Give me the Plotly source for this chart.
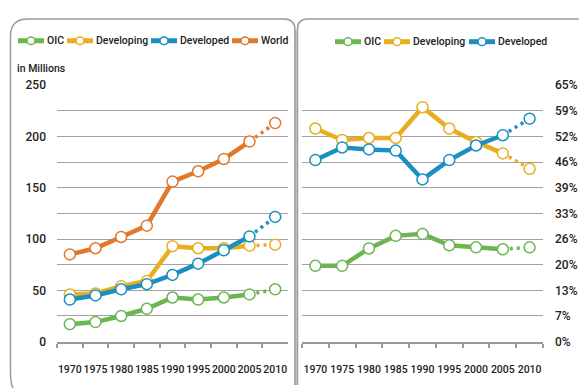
import plotly.graph_objects as go

# ---- data ----
years = ["1970", "1975", "1980", "1985", "1990", "1995", "2000", "2005", "2010"]

# population, in millions
oic_mn = [17, 19, 25, 32, 43, 41, 43, 46, 51]
developing_mn = [46, 47, 54, 59, 93, 91, 91, 93.5, 94.5]
developed_mn = [41, 45, 51, 56, 65, 76, 89, 102.5, 121.5]
world_mn = [85, 91, 102, 113, 156, 166, 178, 195, 213]

# share of world total, percent
oic_pct = [19.2, 19.2, 23.6, 26.8, 27.3, 24.4, 23.9, 23.4, 23.9]
developing_pct = [54.0, 51.1, 51.6, 51.6, 59.4, 54.0, 50.6, 47.7, 43.8]
developed_pct = [46.0, 49.2, 48.7, 48.4, 41.1, 46.0, 49.7, 52.3, 56.5]

left_ticks = [0, 25, 50, 75, 100, 125, 150, 175, 200, 225, 250]
left_ticktext = ["0", "", "50", "", "100", "", "150", "", "200", "", "250"]
right_ticks = [0, 6.5, 13, 19.5, 26, 32.5, 39, 45.5, 52, 58.5, 65]
right_ticktext = ["0%", "7%", "13%", "20%", "26%", "33%", "39%", "46%", "52%", "59%", "65%"]

left_legend = ["OIC", "Developing", "Developed", "World"]
right_legend = ["OIC", "Developing", "Developed"]

GREEN = "#6cb651"
YELLOW = "#e8ae1f"
BLUE = "#1b8fbf"
ORANGE = "#e1782c"

W, H = 579, 392
FONT = "Roboto"
TXT = "#222222"
GRID = "#a3a3a3"


def px(x):
    return x / W


def py(y):
    return 1 - y / H


fig = go.Figure()

marker_style = lambda c: dict(size=11, color="white", line=dict(color=c, width=1.5))


def add_series(name, vals, color, xa, ya):
    # projected segment (2005 -> 2010), dotted
    fig.add_trace(go.Scatter(
        x=years[-2:], y=vals[-2:], xaxis=xa, yaxis=ya, name=name,
        mode="lines", line=dict(color=color, width=3.5, dash="3px,4px"),
        showlegend=False, hoverinfo="skip",
    ))
    # projected 2010 value
    fig.add_trace(go.Scatter(
        x=years[-1:], y=vals[-1:], xaxis=xa, yaxis=ya, name=name,
        mode="markers", marker=marker_style(color), showlegend=False,
    ))
    # observed values, solid
    fig.add_trace(go.Scatter(
        x=years[:-1], y=vals[:-1], xaxis=xa, yaxis=ya, name=name,
        mode="lines+markers", line=dict(color=color, width=4.5),
        marker=marker_style(color), showlegend=False,
    ))


for name, vals, c in zip(left_legend, [oic_mn, developing_mn, developed_mn, world_mn],
                         [GREEN, YELLOW, BLUE, ORANGE]):
    add_series(name, vals, c, "x", "y")
for name, vals, c in zip(right_legend, [oic_pct, developing_pct, developed_pct],
                         [GREEN, YELLOW, BLUE]):
    add_series(name, vals, c, "x2", "y2")

# legend keys: short bar with a hollow dot, label to the right
KEY_LEN = 26
key_slots = [
    (left_legend[0], GREEN, 18, 35), (left_legend[1], YELLOW, 67, 35),
    (left_legend[2], BLUE, 151, 35), (left_legend[3], ORANGE, 232, 35),
    (right_legend[0], GREEN, 335, 36), (right_legend[1], YELLOW, 384, 36),
    (right_legend[2], BLUE, 469, 36),
]
for name, c, lx, ly in key_slots:
    fig.add_shape(type="line", xref="paper", yref="paper",
                  x0=px(lx), x1=px(lx + KEY_LEN), y0=py(ly), y1=py(ly),
                  line=dict(color=c, width=5))
    cx = lx + KEY_LEN / 2
    fig.add_shape(type="circle", xref="paper", yref="paper",
                  x0=px(cx - 4), x1=px(cx + 4), y0=py(ly + 4), y1=py(ly - 4),
                  fillcolor="white", line=dict(color=c, width=1.5))
    fig.add_annotation(text=name, xref="paper", yref="paper",
                       x=px(lx + KEY_LEN + 1), y=py(ly), xanchor="left", yanchor="middle",
                       showarrow=False,
                       font=dict(family=FONT, size=10.5, color=TXT, weight=500))

y_dom = [py(347), py(81)]
xaxis_common = dict(
    type="category", categoryorder="array", categoryarray=years,
    range=[-0.5, 8.5], showgrid=False, showline=True, linecolor="#9a9a9a", linewidth=2,
    ticks="outside", tickson="boundaries", ticklen=4, tickcolor="#9a9a9a", tickwidth=1.5,
    tickangle=0,
    tickfont=dict(family=FONT, size=10.5, color=TXT, weight=500),
    ticklabelstandoff=17, zeroline=False, fixedrange=True,
)
yaxis_common = dict(
    showgrid=True, gridcolor=GRID, gridwidth=1.3, zeroline=False, showline=False,
    ticks="", tickfont=dict(family=FONT, size=12, color=TXT, weight=500), fixedrange=True,
)

fig.update_layout(
    width=W, height=H, margin=dict(l=0, r=0, t=0, b=0),
    paper_bgcolor="white", plot_bgcolor="white", showlegend=False,
    xaxis=dict(domain=[px(57), px(288)], anchor="y", **xaxis_common),
    yaxis=dict(domain=y_dom, anchor="x", range=[0, 250], tickmode="array",
               tickvals=left_ticks, ticktext=left_ticktext, ticklabelstandoff=10, **yaxis_common),
    xaxis2=dict(domain=[px(302), px(543)], anchor="y2", **xaxis_common),
    yaxis2=dict(domain=y_dom, anchor="x2", side="right", range=[0, 65], tickmode="array",
                tickvals=right_ticks, ticktext=right_ticktext, ticklabelstandoff=11, **yaxis_common),
)

fig.add_annotation(
    text="in Millions", xref="paper", yref="paper", x=px(15), y=py(64),
    xanchor="left", yanchor="middle", showarrow=False,
    font=dict(family=FONT, size=10.5, color=TXT, weight=500),
)


# panel frames
def P(x, y):
    return f"{px(x):.5f},{py(y):.5f}"


left_frame = (f"M{P(13, 395)} Q{P(10.5, 390)} {P(10.5, 380)} L{P(10.5, 30)} "
              f"Q{P(10.5, 12.5)} {P(28, 12.5)} L{P(284, 12.5)} "
              f"Q{P(295, 12.5)} {P(295, 24)} L{P(295, 392)}")
right_frame = (f"M{P(297.5, 392)} L{P(297.5, 23)} Q{P(297.5, 12.5)} {P(308, 12.5)} "
               f"L{P(580, 12.5)}")
fig.add_shape(type="rect", xref="paper", yref="paper",
              x0=px(294.5), x1=px(298), y0=py(392), y1=py(24),
              fillcolor="#cdcdcd", line=dict(width=0), layer="below")
fig.add_shape(type="path", xref="paper", yref="paper", path=left_frame,
              line=dict(color="#9a9a9a", width=1.5))
fig.add_shape(type="path", xref="paper", yref="paper", path=right_frame,
              line=dict(color="#9a9a9a", width=1.5))

fig.write_html("out.html")
